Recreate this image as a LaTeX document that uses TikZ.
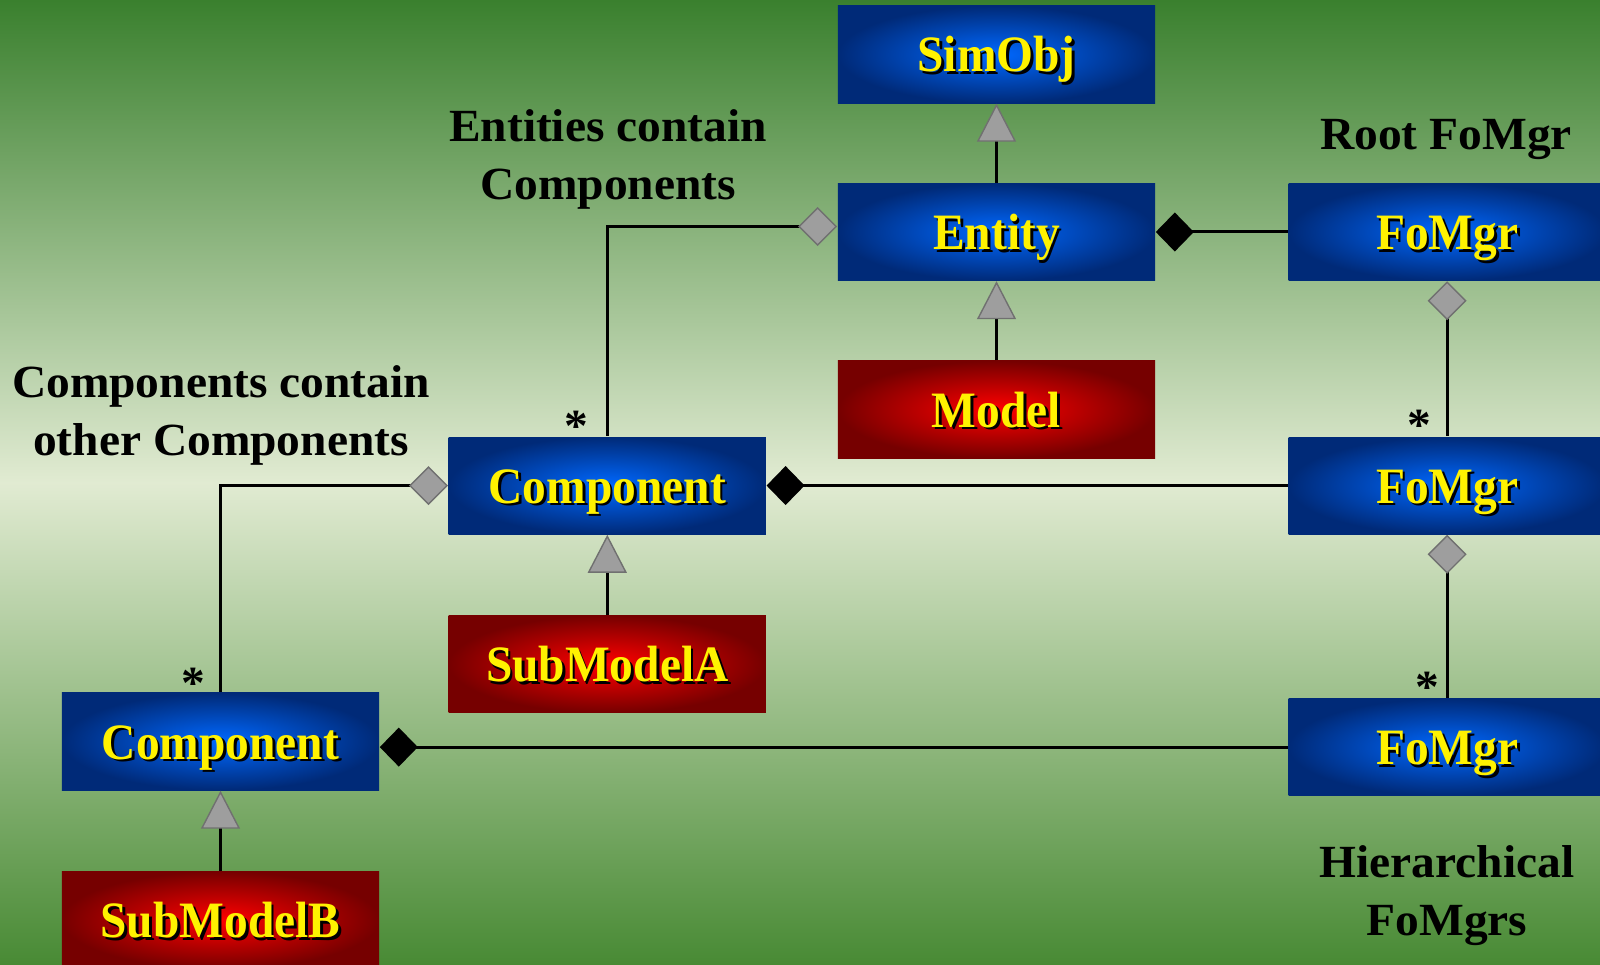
\documentclass[tikz,border=0pt]{standalone}
\usepackage{fontspec}
\setmainfont{Liberation Serif}
\newfontfamily\boxfont[FakeStretch=0.93]{Liberation Serif}
\newfontfamily\notefont[FakeStretch=1.03]{Liberation Serif}
\usetikzlibrary{positioning,arrows.meta}

\definecolor{fondhaut}{RGB}{58,128,46}
\definecolor{fondmil}{RGB}{225,235,210}
\definecolor{fondbas}{RGB}{72,138,52}
\definecolor{bleuclair}{RGB}{0,104,255}
\definecolor{bleufonce}{RGB}{0,42,120}
\definecolor{rougeclair}{RGB}{255,0,0}
\definecolor{rougefonce}{RGB}{118,0,0}
\definecolor{pointe}{RGB}{158,158,158}
\definecolor{pointebord}{RGB}{112,112,112}

\newcommand{\ombre}[1]{\rlap{\kern0.8pt\raisebox{-0.8pt}{\color{black}#1}}#1}

\tikzset{%
  classe/.style={minimum width=3.17cm, minimum height=0.97cm, inner sep=0pt, text height=0.45cm, text depth=0.1cm, text=yellow, font=\boxfont\bfseries\fontsize{14.5}{17}\selectfont, inner color=bleuclair, outer color=bleufonce},
  modele/.style={classe, inner color=rougeclair, outer color=rougefonce},
  nota/.style={align=center, anchor=base, font=\notefont\bfseries\fontsize{13.1}{16.5}\selectfont},
  mult/.style={font=\notefont\bfseries\fontsize{13.1}{16}\selectfont, inner sep=0pt},
  herit/.style={draw, line width=0.85pt, -{Triangle[length=0.38cm, width=0.39cm, line width=0.4pt, color=pointebord, fill=pointe]}},
  agreg/.style={draw, line width=0.85pt, {Diamond[length=0.39cm, width=0.39cm, line width=0.4pt, color=pointebord, fill=pointe]}-},
  compo/.style={draw, line width=0.85pt, {Diamond[length=0.38cm, width=0.39cm]}-},
}

\begin{document}
\begin{tikzpicture}[x=0.01cm, y=-0.01cm, node distance=0.79cm]
\useasboundingbox (0,0) rectangle (1600,965);
\clip (0,0) rectangle (1600,965);
\shade[top color=fondhaut, bottom color=fondbas, middle color=fondmil] (0,0) rectangle (1600,965);

% classes
\node[classe] (simobj) at (996.5,54.5) {\ombre{SimObj}};
\node[classe] (entity) [below=of simobj] {\ombre{Entity}};
\node[modele] (model) [below=of entity] {\ombre{Model}};
\node[classe] (rootmgr) [right=1.32cm of entity] {\ombre{FoMgr}};
\node[classe] (midmgr) [below=1.55cm of rootmgr] {\ombre{FoMgr}};
\node[classe] (lowmgr) [below=1.63cm of midmgr] {\ombre{FoMgr}};
\node[classe] (comp1) [left=5.21cm of midmgr] {\ombre{Component}};
\node[modele] (subA) [below=0.8cm of comp1] {\ombre{SubModelA}};
\node[classe] (comp2) at (220.5,741.5) {\ombre{Component}};
\node[modele] (subB) [below=0.8cm of comp2] {\ombre{SubModelB}};

% notes
\node[nota] (entnote) at (608,200) {Entities contain\\Components};
\node[nota] (rootnote) at (1446,150) {Root FoMgr};
\node[nota] (compnote) at (221,456) {Components contain\\other Components};
\node[nota] (hiernote) at (1447,936) {Hierarchical\\FoMgrs};

% multiplicities
\node[mult] (m1) at ([xshift=-0.31cm, yshift=0.10cm]comp1.north) {*};
\node[mult] (m2) at ([xshift=-0.275cm, yshift=0.09cm]comp2.north) {*};
\node[mult] (m3) at ([xshift=-0.28cm, yshift=0.11cm]midmgr.north) {*};
\node[mult] (m4) at ([xshift=-0.2cm, yshift=0.11cm]lowmgr.north) {*};

\draw[herit] (entity) -- (simobj);
\draw[herit] (model) -- (entity);
\draw[herit] (subA) -- (comp1);
\draw[herit] (subB) -- (comp2);
\draw[compo] (entity) -- (rootmgr);
\draw[compo] (comp1) -- (midmgr);
\draw[compo] (lowmgr.west -| comp2.east) -- (lowmgr);
\draw[agreg] ([yshift=0.055cm]entity.west) -| (comp1);
\draw[agreg] (comp1) -| (comp2);
\draw[agreg] (rootmgr) -- (midmgr);
\draw[agreg] (midmgr) -- (lowmgr);
\end{tikzpicture}
\end{document}
